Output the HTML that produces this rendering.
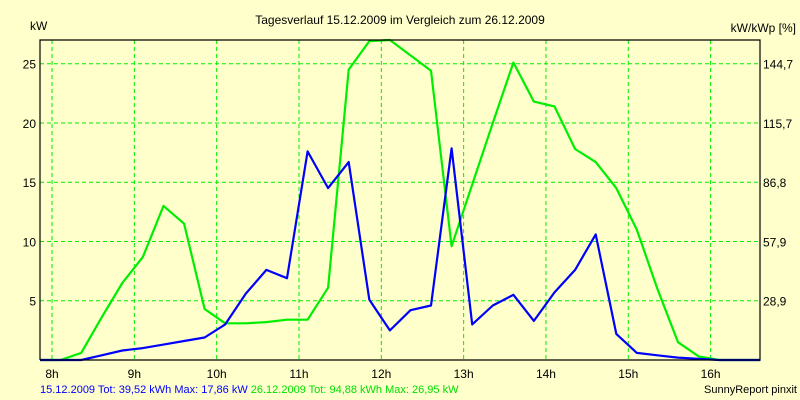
<!DOCTYPE html>
<html><head><meta charset="utf-8"><style>
body{margin:0;background:#ffffcc;}
svg{display:block;font-family:"Liberation Sans",sans-serif;font-size:12px;}
</style></head><body>
<svg width="800" height="400">
<rect x="0" y="0" width="800" height="400" fill="#ffffcc"/>
<text x="400" y="24" text-anchor="middle" fill="#000">Tagesverlauf 15.12.2009 im Vergleich zum 26.12.2009</text>
<text x="30" y="30" fill="#000">kW</text>
<text x="796" y="32" text-anchor="end" fill="#000">kW/kWp [%]</text>
<g id="grid"></g><g id="series"></g><g id="axes"></g>
<text x="40" y="393" font-size="11"><tspan fill="#0000ff">15.12.2009 Tot: 39,52 kWh Max: 17,86 kW</tspan><tspan fill="#00e000"> 26.12.2009 Tot: 94,88 kWh Max: 26,95 kW</tspan></text>
<text x="797" y="393" font-size="11" text-anchor="end" fill="#000">SunnyReport pinxit</text>
</svg>
<script>
const hourTicks=[8,9,10,11,12,13,14,15,16];
const yTicks=[5,10,15,20,25];
const rightLabels=["28,9","57,9","86,8","115,7","144,7"];
const startHour=7.854, stepHour=0.25;
const blue=[0,0,0,0.4,0.8,1.0,1.3,1.6,1.9,3.0,5.6,7.6,6.9,17.6,14.5,16.7,5.1,2.5,4.2,4.6,17.86,3.0,4.6,5.5,3.3,5.7,7.6,10.6,2.2,0.6,0.4,0.2,0.1,0,0,0];
const green=[0,0,0.6,3.6,6.5,8.7,13.0,11.5,4.3,3.1,3.1,3.2,3.4,3.4,6.1,24.5,26.9,27.0,25.7,24.4,9.6,14.8,20.0,25.1,21.8,21.4,17.8,16.7,14.5,11.0,6.0,1.5,0.3,0,0,0];
const L=40,R=760,T=40,B=360,xmin=7.854,xmax=16.6,ymax=27;
const X=h=>L+(h-xmin)/(xmax-xmin)*(R-L);
const Y=v=>B-v/ymax*(B-T);
const NS="http://www.w3.org/2000/svg";
function mk(tag,attrs,parent){const e=document.createElementNS(NS,tag);for(const k in attrs)e.setAttribute(k,attrs[k]);parent.appendChild(e);return e;}
const grid=document.getElementById('grid'),axes=document.getElementById('axes'),ser=document.getElementById('series');
hourTicks.forEach(h=>{
 const l=mk('line',{x1:X(h),x2:X(h),y1:T,y2:B,stroke:'#00ee00','stroke-dasharray':'4,3'},grid);
 
 
 const t=mk('text',{x:X(h),y:378,'text-anchor':'middle',fill:'#000'},axes);
 t.textContent=h+'h';
 
 
});
yTicks.forEach((v,i)=>{
 const l=mk('line',{x1:L,x2:R,y1:Y(v),y2:Y(v),stroke:'#00ee00','stroke-dasharray':'4,3'},grid);
 
 
 const t=mk('text',{x:36,y:Y(v)+5,'text-anchor':'end',fill:'#000'},axes);
 t.textContent=v;
 
 
 const r=mk('text',{x:763,y:Y(v)+5,fill:'#000'},axes);
 r.textContent=rightLabels[i];
 
 
});
const frame=mk('polyline',{points:`${L},${B} ${L},${T} ${R},${T} ${R},${B} ${L},${B}`,fill:'none',stroke:'#000','stroke-width':1.2},axes);


function line(vals,color,name){
 const pts=vals.map((v,i)=>X(startHour+i*stepHour).toFixed(1)+','+Y(v).toFixed(1)).join(' ');
 const p=mk('polyline',{points:pts,fill:'none',stroke:color,'stroke-width':2.2,'stroke-linejoin':'round'},ser);
 
 
}
line(green,'#00ee00','series-26-12-2009');
line(blue,'#0000ff','series-15-12-2009');
</script>
</body></html>
